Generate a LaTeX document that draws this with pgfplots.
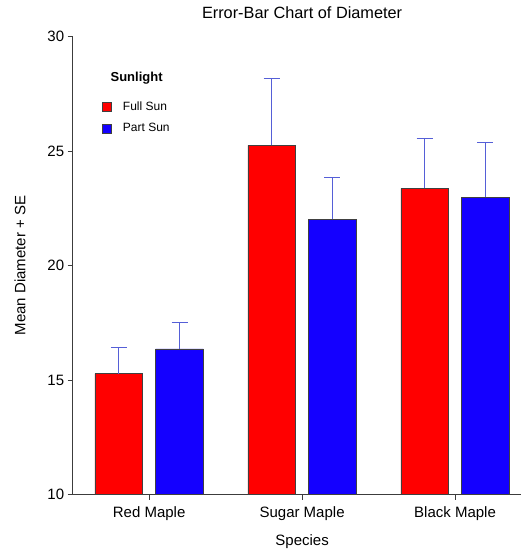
\documentclass[border=0pt]{standalone}
\usepackage{fontspec}
\setmainfont{Liberation Sans}
\usepackage{pgfplots}
\usepackage{pgfplotstable}
\pgfplotsset{compat=1.18}

\definecolor{fullsun}{RGB}{255,0,0}
\definecolor{partsun}{RGB}{20,0,255}
\definecolor{errcol}{RGB}{85,95,215}
\definecolor{axcol}{RGB}{60,60,60}

% mean diameter and standard error, one table per sunlight level
\pgfplotstableread{
x mean se
0 15.28 1.15
1 25.25 2.94
2 23.37 2.20
}\fullsun
\pgfplotstableread{
x mean se
0 16.36 1.15
1 22.02 1.85
2 22.98 2.40
}\partsun

\begin{document}
\begin{tikzpicture}
\begin{axis}[
  scale only axis,
  width=458.8pt, height=457.8pt,
  xmin=-0.5, xmax=2.5, ymin=10, ymax=30,
  ybar=13pt, bar width=47.7pt,
  axis x line*=bottom, axis y line*=left,
  axis line style={axcol, line width=0.8pt},
  xtick={0,1,2},
  xticklabels={Red Maple, Sugar Maple, Black Maple},
  ytick={10,15,...,30},
  tick align=outside,
  major tick length=5pt,
  tick style={draw=axcol, line width=0.8pt},
  xtick style={draw=axcol, line width=0.8pt},
  ticklabel style={font=\fontsize{15}{18}\selectfont},
  xticklabel style={yshift=-4pt},
  /pgf/number format/assume math mode=true,
  title={Error-Bar Chart of Diameter},
  title style={font=\fontsize{16.3}{19}\selectfont, at={(axis description cs:0.5,1.0277)}, anchor=base},
  xlabel={Species},
  xlabel style={font=\fontsize{15}{18}\selectfont, at={(axis description cs:0.5,-0.1114)}, anchor=base},
  ylabel={Mean Diameter + SE},
  ylabel style={font=\fontsize{15}{18}\selectfont, at={(axis description cs:-0.1031,0.5)}, anchor=base},
  error bars/y dir=plus,
  error bars/y explicit,
  error bars/error bar style={errcol, line width=0.9pt},
  error bars/error mark options={rotate=90, errcol, mark size=8pt, line width=0.9pt},
  legend image code/.code={\path[draw=black!75, line width=0.5pt, #1] (0pt,-4.5pt) rectangle (9pt,4.5pt);},
  legend style={
    at={(axis cs:-0.3065,27.16)}, anchor=north west,
    draw=none, fill=none, inner sep=0pt,
    font=\fontsize{12}{14}\selectfont,
    nodes={inner sep=0pt, anchor=west},
    row sep=11.5pt,
    /tikz/every odd column/.append style={column sep=11pt},
  },
  legend cell align=left,
]
\addplot[fill=fullsun, draw=black!75, line width=0.5pt]
  table[x=x, y=mean, y error=se] {\fullsun};
\addlegendentry{Full Sun}
\addplot[fill=partsun, draw=black!75, line width=0.5pt]
  table[x=x, y=mean, y error=se] {\partsun};
\addlegendentry{Part Sun}
\node[font=\bfseries\fontsize{13}{15}\selectfont] at (axis cs:-0.082,28.18) {Sunlight};
\end{axis}
\pgfresetboundingbox
\path (current axis.south west) ++(-72.7pt,-55.5pt) rectangle ++(521pt,550pt);
\end{tikzpicture}
\end{document}
